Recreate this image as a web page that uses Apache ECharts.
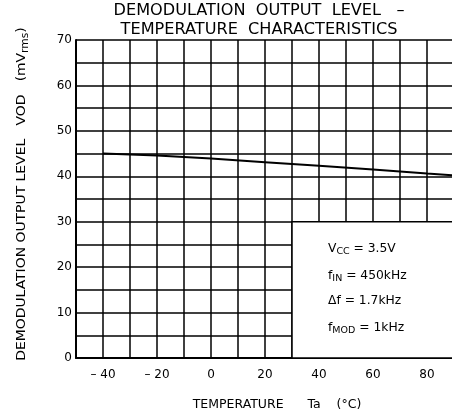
<!DOCTYPE html>
<html><head><meta charset="utf-8">
<script src="https://cdn.jsdelivr.net/npm/echarts@6/dist/echarts.min.js"></script>
<style>html,body{margin:0;padding:0;background:#fff}#c{width:452px;height:417px}</style>
</head><body><div id="c"></div>
<script>
var temps = [-40, -20, 0, 20, 40, 60, 80, 90];
var levels = [45.0, 44.6, 43.9, 43.1, 42.3, 41.5, 40.6, 40.2];
var xTickLabels = {'-40':'– 40','-20':'– 20','0':'0','20':'20','40':'40','60':'60','80':'80'};
var yTickLabels = [0, 10, 20, 30, 40, 50, 60, 70];
var titleLines = ['DEMODULATION  OUTPUT  LEVEL   –', 'TEMPERATURE  CHARACTERISTICS'];
var yName = '{a|DEMODULATION OUTPUT LEVEL   VOD   (mV}{s|rms}{a|)}';
var xName = 'TEMPERATURE      Ta    (°C)';
var boxFrom = [30, 0], boxTo = [90, 30];
var FONT = 'DejaVu Sans';

var chart = echarts.init(document.getElementById('c'), null, {renderer:'canvas'});
var option = {
  animation: false,
  backgroundColor: '#fff',
  grid: {left: 76, top: 40, width: 378, bottom: 59, containLabel: false, outerBoundsMode: 'none'},
  xAxis: {
    type: 'value', min: -50, max: 90, interval: 10,
    axisLine: {show: true, onZero: false, lineStyle: {color: '#000', width: 2}},
    axisTick: {show: false},
    splitLine: {show: true, lineStyle: {color: '#000', width: 1.5}},
    axisLabel: {
      margin: 11, color: '#000', fontSize: 12, fontFamily: FONT,
      formatter: function (v) { return xTickLabels[String(v)] !== undefined ? xTickLabels[String(v)] : ''; }
    }
  },
  yAxis: {
    type: 'value', min: 0, max: 70, interval: 5,
    axisLine: {show: true, onZero: false, lineStyle: {color: '#000', width: 2}},
    axisTick: {show: false},
    splitLine: {show: true, lineStyle: {color: '#000', width: 1.5}},
    axisLabel: {
      margin: 4, color: '#000', fontSize: 12, fontFamily: FONT,
      formatter: function (v) { return yTickLabels.indexOf(v) >= 0 ? String(v) : ''; }
    }
  },
  series: [{
    type: 'line',
    data: temps.map(function (t, i) { return [t, levels[i]]; }),
    showSymbol: false, smooth: false,
    lineStyle: {color: '#000', width: 2},
    z: 5,
    markArea: {
      silent: true,
      itemStyle: {color: '#fff', borderColor: '#000', borderWidth: 1.5},
      label: {show: false},
      data: [[{coord: boxFrom}, {coord: boxTo}]]
    }
  }]
};
chart.setOption(option);

var tl = chart.convertToPixel({gridIndex: 0}, [boxFrom[0], boxTo[1]]);
var main = {fontSize: 12.3, fontFamily: FONT, color: '#000', lineHeight: 16, verticalAlign: 'middle'};
var sub = {fontSize: 9.5, fontFamily: FONT, color: '#000', lineHeight: 10, verticalAlign: 'bottom'};
var annLines = [
  '{m|V}{s|CC}{m| = 3.5V}',
  '{m|f}{s|IN}{m| = 450kHz}',
  '{m|Δf = 1.7kHz}',
  '{m|f}{s|MOD}{m| = 1kHz}'
];
var annOffsets = [26, 53, 78, 105];
var graphics = annLines.map(function (t, i) {
  return {
    type: 'text', left: tl[0] + 36, top: tl[1] + annOffsets[i] - 5, z: 100,
    style: {text: t, rich: {m: main, s: sub}}
  };
});
graphics.push({
  type: 'text', z: 100, x: 259, y: 1.5, scaleX: 1.075,
  style: {text: titleLines.join('\n'), fontSize: 15, lineHeight: 19, fontFamily: FONT, fill: '#000', align: 'center', verticalAlign: 'top'}
});
graphics.push({
  type: 'text', z: 100, x: 277, y: 405,
  style: {text: xName, fontSize: 12.5, fontFamily: FONT, fill: '#000', align: 'center', verticalAlign: 'middle'}
});
graphics.push({
  type: 'text', z: 100, x: 22, y: 194, rotation: Math.PI / 2, scaleX: 1.07,
  style: {
    text: yName, align: 'center', verticalAlign: 'middle',
    rich: {
      a: {fontSize: 13, fontFamily: FONT, color: '#000', lineHeight: 16, verticalAlign: 'middle'},
      s: {fontSize: 10, fontFamily: FONT, color: '#000', lineHeight: 9, verticalAlign: 'bottom'}
    }
  }
});
chart.setOption({graphic: graphics});
</script>
</body></html>
